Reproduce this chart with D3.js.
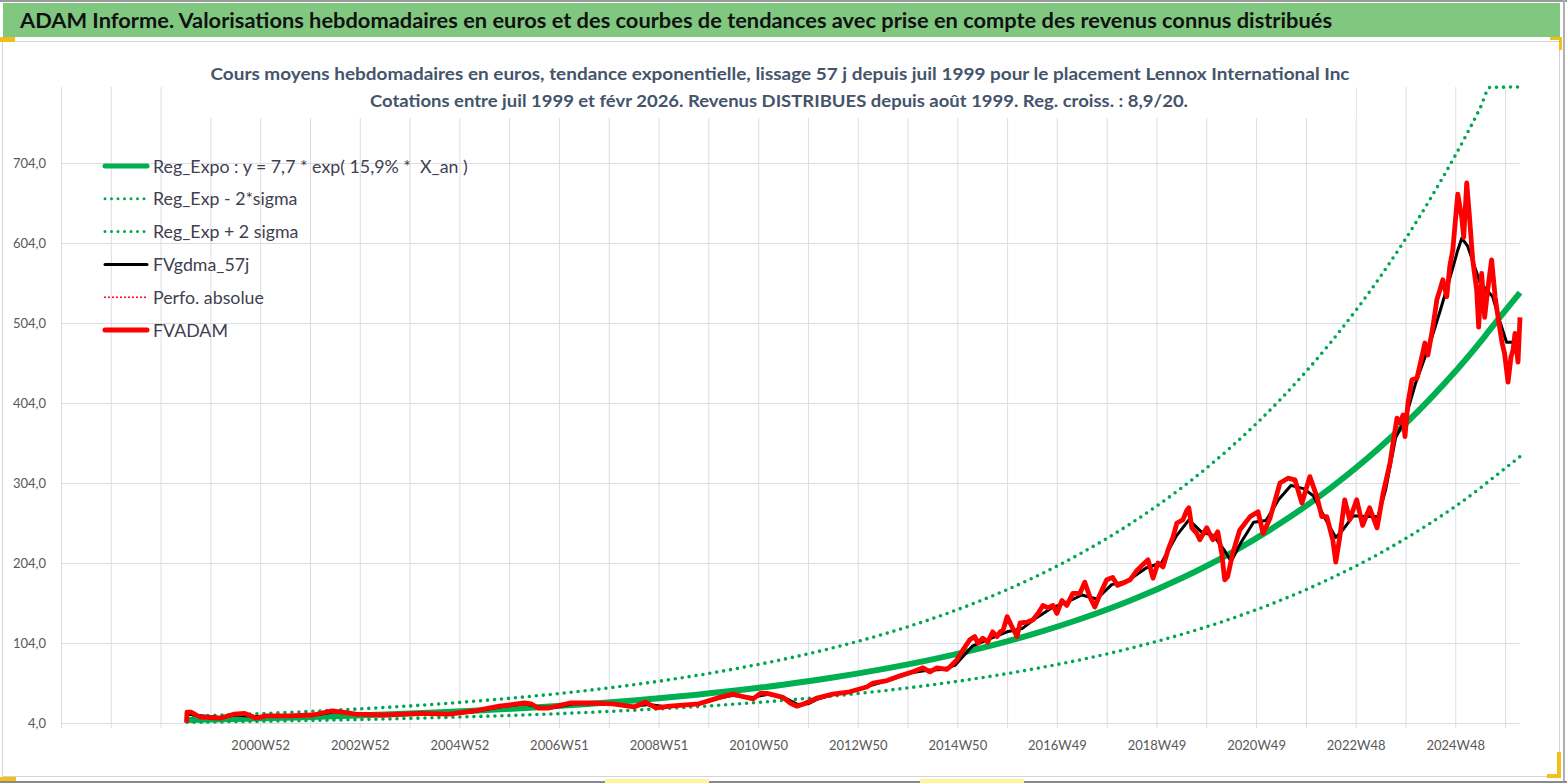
<!DOCTYPE html>
<html>
<head>
<meta charset="utf-8">
<script src="https://cdn.jsdelivr.net/npm/d3@7"></script>
<style>
  body { margin: 0; background: #fff; overflow: hidden; }
  text { font-family: Lato, "Open Sans", sans-serif; }
  .grid line { stroke: #dcdde3; stroke-width: 1; }
  .grid .domain { display: none; }
  .axis .domain { display: none; }
  .axis text { fill: #595959; font-size: 13px; }
</style>
</head>
<body>
<svg id="chart" width="1567" height="783"></svg>
<script>
// Weekly FV values, as [decimal year, value]
const fvadam = [
  [1999.52,4.5],[1999.53,17.5],[1999.61,17.7],[1999.79,11.5],[2000.19,10],[2000.47,15],[2000.69,16],
  [2000.92,10],[2001.12,13],[2001.56,13],[2002.06,14],[2002.42,19],[2002.62,18],[2002.92,15],
  [2003.49,14],[2004.21,16],[2004.79,15],[2005.29,19],[2005.80,25],[2006.30,29],[2006.44,28],
  [2006.58,22.7],[2006.80,22.7],[2007.22,29],[2007.64,29],[2008.08,28],[2008.51,24],[2008.73,30],
  [2008.95,23],[2009.23,25],[2009.81,28],[2010.23,36],[2010.49,40],[2010.90,34],[2011.04,41],
  [2011.18,41],[2011.50,36],[2011.64,29],[2011.78,25],[2011.90,27.5],[2012.18,35],[2012.50,40],
  [2012.84,43],[2013.18,49],[2013.31,54],[2013.59,57],[2013.85,63],[2014.11,68],[2014.31,73],
  [2014.45,68],[2014.59,73],[2014.79,71],[2014.85,74],[2014.99,83],[2015.11,95],[2015.25,108],
  [2015.35,112],[2015.41,104],[2015.51,110],[2015.61,105],[2015.71,118],[2015.80,112],[2015.86,118],
  [2015.92,120],[2016.00,137],[2016.10,124],[2016.20,112],[2016.26,129],[2016.40,130],[2016.52,133],
  [2016.62,141],[2016.72,151],[2016.82,148],[2016.92,151],[2017.00,141],[2017.10,157],[2017.20,151],
  [2017.32,166],[2017.46,166],[2017.56,180],[2017.66,162],[2017.76,149],[2017.86,164],[2018.00,183],
  [2018.12,186],[2018.22,176],[2018.33,179],[2018.47,183],[2018.61,195],[2018.73,202],[2018.83,208],
  [2018.93,185],[2019.03,204],[2019.13,199],[2019.23,220],[2019.33,236],[2019.41,254],[2019.53,258],
  [2019.61,270],[2019.65,273],[2019.71,248],[2019.81,241],[2019.87,233],[2020.01,248],[2020.13,233],
  [2020.23,243],[2020.31,216],[2020.37,183],[2020.43,187],[2020.53,216],[2020.67,245],[2020.88,262],
  [2021.04,268],[2021.14,241],[2021.28,260],[2021.48,304],[2021.64,310],[2021.78,308],[2021.92,279],
  [2022.08,312],[2022.22,287],[2022.32,262],[2022.42,262],[2022.54,233],[2022.60,205],[2022.68,236],
  [2022.78,283],[2022.88,258],[2023.02,283],[2023.14,251],[2023.28,273],[2023.43,248],[2023.55,291],
  [2023.69,329],[2023.75,354],[2023.83,385],[2023.89,379],[2023.95,389],[2023.99,362],[2024.05,404],
  [2024.13,433],[2024.23,435],[2024.33,462],[2024.39,479],[2024.45,464],[2024.55,499],[2024.63,533],
  [2024.69,545],[2024.75,558],[2024.83,537],[2024.89,575],[2024.95,595],[2025.05,665],[2025.13,636],
  [2025.17,611],[2025.23,679],[2025.29,633],[2025.35,583],[2025.43,545],[2025.47,499],[2025.53,566],
  [2025.59,511],[2025.65,545],[2025.73,583],[2025.80,537],[2025.86,511],[2025.94,479],[2025.99,466],
  [2026.06,430],[2026.12,462],[2026.16,470],[2026.20,491],[2026.26,455],[2026.30,511]
];

// 57-day smoothed line
const fvgdma = [
  [1999.55,15],[1999.8,13],[2000.2,11],[2000.5,14],[2000.9,12],[2001.3,12.5],[2001.8,13],[2002.2,15],
  [2002.5,18],[2002.9,15.5],[2003.5,14],[2004.2,15.5],[2004.8,15],[2005.3,18.5],[2005.8,24],[2006.3,28],
  [2006.6,24],[2006.9,23.5],[2007.3,28],[2007.7,28.5],[2008.1,27.5],[2008.5,25],[2008.8,27],[2009.1,24.5],
  [2009.8,28],[2010.2,35],[2010.5,38.5],[2010.9,36],[2011.2,40],[2011.5,36.5],[2011.8,27],[2012.0,28],
  [2012.2,34],[2012.5,39.5],[2012.85,43],[2013.2,50],[2013.6,57],[2013.9,63],[2014.1,67],[2014.4,70],
  [2014.7,71],[2014.95,76],[2015.3,100],[2015.6,108],[2016.0,118],[2016.3,122],[2016.6,136],
  [2016.9,148],[2017.2,155],[2017.5,164],[2017.8,159],[2018.1,177],[2018.4,181],[2018.8,198],
  [2019.1,204],[2019.4,238],[2019.65,258],[2019.9,243],[2020.15,238],[2020.35,221],
  [2020.5,206],[2020.7,230],[2020.95,255],[2021.2,257],[2021.45,283],[2021.7,301],[2021.95,297],
  [2022.15,288],[2022.4,258],[2022.6,236],[2022.75,246],[2022.95,263],[2023.2,262],[2023.45,262],
  [2023.6,295],[2023.8,360],[2024.0,385],[2024.2,428],[2024.5,480],[2024.7,520],[2024.9,562],
  [2025.05,595],[2025.13,610],[2025.25,600],[2025.5,554],[2025.75,537],[2025.9,505],
  [2026.03,480],[2026.15,480],[2026.30,495]
];

// Exponential trend and +/- 2 sigma bands, read at yearly points
const trendYears = [1999.53,2000.5,2001.5,2002.5,2003.5,2004.5,2005.5,2006.5,2007.5,2008.5,2009.5,
  2010.5,2011.5,2012.5,2013.5,2014.5,2015.5,2016.5,2017.5,2018.5,2019.5,2020.5,2021.5,2022.5,2023.5,
  2024.5,2025.5,2025.7,2026.3];
const regExpo = [7.7,9.0,10.6,12.4,14.5,17.0,20.0,23.4,27.5,32.2,37.7,44.2,51.9,60.8,71.3,83.5,97.9,
  114.8,134.6,157.8,185.0,216.8,254.2,298.0,349.3,409.5,480.0,495.9,542];
const regHigh = [12.4,14.5,17.0,20.0,23.4,27.4,32.2,37.7,44.2,51.8,60.8,71.3,83.5,97.9,114.7,134.5,
  157.7,184.8,216.7,254.0,297.8,349.1,409.2,479.8,562.4,659.3,772.8,798.5,873];
const regLow = [4.8,5.6,6.6,7.7,9.0,10.6,12.4,14.5,17.0,20.0,23.4,27.4,32.2,37.7,44.2,51.8,60.7,
  71.2,83.4,97.8,114.7,134.4,157.6,184.8,216.6,253.9,297.6,307.5,337];

const yTicks = [4, 104, 204, 304, 404, 504, 604, 704];
const gridYears = d3.range(1997, 2027);
const tickLabels = ["2000W52","2002W52","2004W52","2006W51","2008W51","2010W50","2012W50",
  "2014W50","2016W49","2018W49","2020W49","2022W48","2024W48"];
const labelYears = tickLabels.map((d, i) => 2001 + 2 * i);

const legendItems = [
  { name: "Reg_Expo : y = 7,7 * exp( 15,9% *  X_an )", color: "#00B050", width: 5, dash: null },
  { name: "Reg_Exp - 2*sigma", color: "#00A651", width: 3, dash: "0,6.5" },
  { name: "Reg_Exp + 2 sigma", color: "#00A651", width: 3, dash: "0,6.5" },
  { name: "FVgdma_57j", color: "#000000", width: 3, dash: null },
  { name: "Perfo. absolue", color: "#FF0000", width: 2, dash: "0,4" },
  { name: "FVADAM", color: "#FF0000", width: 5, dash: null }
];

const headTitle = "ADAM Informe. Valorisations hebdomadaires en euros et des courbes de tendances avec prise en compte des revenus connus distribués";
const chartTitle1 = "Cours moyens hebdomadaires en euros, tendance exponentielle, lissage 57 j depuis juil 1999 pour le placement Lennox International Inc";
const chartTitle2 = "Cotations entre juil 1999 et févr 2026. Revenus DISTRIBUES depuis août 1999. Reg. croiss. : 8,9/20.";

const W = 1567, H = 783;
const margin = { top: 87, right: 47, bottom: 60, left: 61 };
const width = W - margin.left - margin.right;
const height = H - margin.top - margin.bottom;

const svg = d3.select('#chart');

// Excel-ish frame
svg.append('rect').attr('x', 0).attr('y', 0).attr('width', W).attr('height', 2).attr('fill', '#9a9a9a');
svg.append('rect').attr('x', 3).attr('y', 3).attr('width', 1557).attr('height', 34).attr('fill', '#80C880');
svg.append('text')
  .attr('x', 20).attr('y', 28)
  .attr('font-size', 21).attr('font-weight', 700).attr('fill', '#111')
  .attr('textLength', 1312).attr('lengthAdjust', 'spacingAndGlyphs')
  .text(headTitle);
svg.append('rect').attr('x', 2.5).attr('y', 41.5).attr('width', 1557).attr('height', 735)
  .attr('fill', '#fff').attr('stroke', '#d4d4d4');
svg.append('rect').attr('x', 1563).attr('y', 0).attr('width', 2).attr('height', H).attr('fill', '#b0b0b0');
svg.append('rect').attr('x', 0).attr('y', 781).attr('width', W).attr('height', 2).attr('fill', '#8a8a8a');

const handle = '#F2BE1C';
[[0,37,15,5],[0,777,16,4],[1550,37,12,3],[1559,37,3,13],[1557,752,4,26],[1547,774,14,4]]
  .forEach(r => svg.append('rect').attr('x', r[0]).attr('y', r[1]).attr('width', r[2]).attr('height', r[3]).attr('fill', handle));
[[605,779,104,4],[920,779,104,4]]
  .forEach(r => svg.append('rect').attr('x', r[0]).attr('y', r[1]).attr('width', r[2]).attr('height', r[3]).attr('fill', '#FFF59A'));

const g = svg.append('g')
  .attr('transform', 'translate(' + margin.left + ',' + margin.top + ')');

const x = d3.scaleLinear()
  .domain([1997, 2026.3])
  .range([0, width]);

const y = d3.scaleLinear()
  .domain([4, 799])
  .range([height, 0])
  .clamp(true);

const fr = d3.formatLocale({ decimal: ",", thousands: " ", grouping: [3], currency: ["", " €"] });
const fmt = fr.format(".1f");

// vertical gridlines (running 5px below the axis like tick marks)
g.append('g')
  .attr('class', 'grid')
  .attr('transform', 'translate(0,' + (height + 5) + ')')
  .call(d3.axisBottom(x).tickValues(gridYears).tickSize(-(height + 5)).tickFormat(''));

// horizontal gridlines + y labels
g.append('g')
  .attr('class', 'grid axis')
  .call(d3.axisLeft(y).tickValues(yTicks).tickSize(-width).tickPadding(15).tickFormat(fmt))
  .call(a => a.selectAll('text').attr('font-size', 13.5));

// x labels
g.append('g')
  .attr('class', 'axis')
  .attr('transform', 'translate(0,' + height + ')')
  .call(d3.axisBottom(x).tickValues(labelYears).tickSize(0).tickPadding(18)
    .tickFormat((d, i) => tickLabels[i]))
  .call(a => a.selectAll('text').attr('font-size', 13.5));

// chart title with white box
const titleBox = svg.append('g');
titleBox.append('rect').attr('x', 204).attr('y', 60).attr('width', 1152).attr('height', 58).attr('fill', '#fff');
titleBox.append('text')
  .attr('x', 780).attr('y', 80).attr('text-anchor', 'middle')
  .attr('font-size', 17).attr('font-weight', 700).attr('fill', '#44546A')
  .attr('textLength', 1139).attr('lengthAdjust', 'spacingAndGlyphs')
  .text(chartTitle1);
titleBox.append('text')
  .attr('x', 779).attr('y', 107).attr('text-anchor', 'middle')
  .attr('font-size', 17).attr('font-weight', 700).attr('fill', '#44546A')
  .attr('textLength', 818).attr('lengthAdjust', 'spacingAndGlyphs')
  .text(chartTitle2);

const chart = g.append('g').attr('class', 'chart');

const trendLine = d3.line()
  .x(d => x(d[0]))
  .y(d => y(d[1]))
  .curve(d3.curveMonotoneX);

const dataLine = d3.line()
  .x(d => x(d[0]))
  .y(d => y(d[1]));

const zip = vals => trendYears.map((t, i) => [t, vals[i]]);

chart.append('path')
  .datum(zip(regExpo))
  .attr('fill', 'none').attr('stroke', '#00B050').attr('stroke-width', 6)
  .attr('d', trendLine);

[regLow, regHigh].forEach(band => {
  chart.append('path')
    .datum(zip(band))
    .attr('fill', 'none').attr('stroke', '#00A651').attr('stroke-width', 3.6)
    .attr('stroke-linecap', 'round').attr('stroke-dasharray', '0,7')
    .attr('d', trendLine);
});

chart.append('path')
  .datum(fvgdma)
  .attr('fill', 'none').attr('stroke', '#000').attr('stroke-width', 3)
  .attr('stroke-linejoin', 'round')
  .attr('d', dataLine);

chart.append('path')
  .datum(fvadam)
  .attr('fill', 'none').attr('stroke', '#FF0000').attr('stroke-width', 4.8)
  .attr('stroke-linejoin', 'round')
  .attr('d', dataLine);

// legend
const legend = svg.append('g').attr('transform', 'translate(103,166)');
const rows = legend.selectAll('g')
  .data(legendItems)
  .join('g')
    .attr('transform', (d, i) => 'translate(0,' + (i * 32.8) + ')');

rows.append('line')
  .attr('x1', 2).attr('x2', 44)
  .attr('stroke', d => d.color)
  .attr('stroke-width', d => d.width)
  .attr('stroke-linecap', 'round')
  .attr('stroke-dasharray', d => d.dash);

rows.append('text')
  .attr('x', 50).attr('y', 6.5)
  .attr('font-size', 17.8).attr('fill', '#404050')
  .style('white-space', 'pre')
  .text(d => d.name);
</script>
</body>
</html>
